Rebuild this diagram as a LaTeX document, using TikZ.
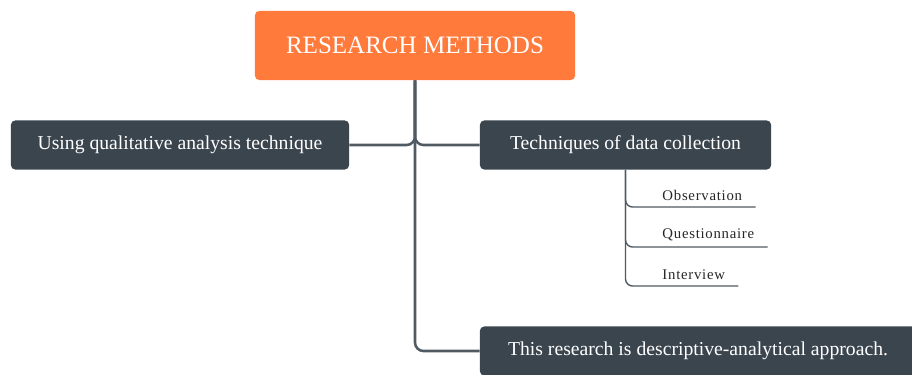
\documentclass[tikz,border=0pt]{standalone}
\usepackage{fontspec}
\setmainfont{Liberation Serif}
\usepackage{xcolor}
\definecolor{rmorange}{HTML}{FF7A3B}
\definecolor{rmdark}{HTML}{3B454E}
\definecolor{rmline}{HTML}{505A63}

\begin{document}
\begin{tikzpicture}[
		x=0.025cm, y=-0.025cm,
		topic/.style={fill=rmdark, text=white, rounded corners=3pt, minimum height=1.225cm, font=\fontsize{14}{16}\selectfont},
		leaf/.style={anchor=south west, inner xsep=0.33cm, inner ysep=4pt, text=black!85, font=\fontsize{10.5}{12}\selectfont\addfontfeatures{LetterSpace=5}},
		link/.style={draw=rmline, line width=1.8pt, rounded corners=6pt},
		sublink/.style={draw=rmline, line width=1pt, rounded corners=5pt},
	]
		\clip (0,0) rectangle (912,374);
		\node[fill=rmorange, text=white, rounded corners=3pt, minimum width=8cm, minimum height=1.725cm, font=\fontsize{17.8}{20}\selectfont] (root) at (415,45.5) {RESEARCH METHODS};

		\node[topic, minimum width=8.45cm] (qual) at (180,145) {Using qualitative analysis technique};
		\node[topic, minimum width=7.275cm] (tech) at (625.5,145) {Techniques of data collection};
		\node[topic, minimum width=10.9cm] (desc) at (698,351) {This research is descriptive-analytical approach.};

		\node[leaf] (obs) at (649,207) {Observation};
		\node[leaf] (quest) at (649,247) {Questionnaire};
		\node[leaf] (inter) at (649,286) {Interview};

		\draw[link] (root.south) |- (qual.east);
		\draw[link] (root.south) |- (tech.west);
		\draw[link] (root.south) |- (desc.west);

		\draw[sublink] (tech.south) |- (obs.south east);
		\draw[sublink] (tech.south) |- (quest.south east);
		\draw[sublink] (tech.south) |- (inter.south east);
	\end{tikzpicture}
\end{document}
